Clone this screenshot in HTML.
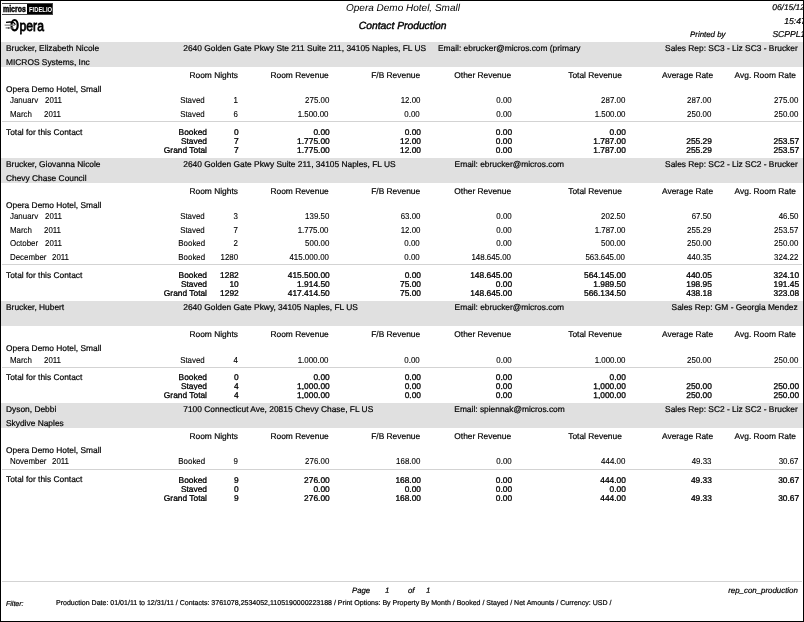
<!DOCTYPE html>
<html><head><meta charset="utf-8"><style>
html,body{margin:0;padding:0;background:#fff;}
#pg{position:relative;width:804px;height:622px;overflow:hidden;background:#fff;}
#clip{position:absolute;left:0;top:0;width:803px;height:620px;overflow:hidden;will-change:transform;}
.t{position:absolute;white-space:pre;line-height:1;text-rendering:geometricPrecision;font-family:"Liberation Sans",sans-serif;color:#000;-webkit-text-stroke:0.2px #000;}
.d{color:#000;-webkit-text-stroke:0.12px #000;transform:scaleX(0.92);}
.b{color:#000;-webkit-text-stroke:0.3px #000;}
</style></head><body><div id="pg"><div id="clip">

<div style="position:absolute;left:1.5px;top:3px;width:51px;height:11.7px;background:#444"></div>
<div style="position:absolute;left:2.1px;top:3.7px;width:25px;height:10.3px;background:#fff"></div>
<div style="position:absolute;left:27.1px;top:3.7px;width:25.2px;height:10.7px;background:#000"></div>
<div style="position:absolute;left:3px;top:3.5px;font:bold 9.4px/10px 'Liberation Sans',sans-serif;color:#000;transform:scaleX(0.74);transform-origin:0 0;white-space:nowrap;-webkit-text-stroke:0.5px #000">micros</div>
<div style="position:absolute;left:27.2px;top:8.3px;width:1.2px;height:1.2px;border-radius:1px;background:#000"></div>
<div style="position:absolute;left:29.2px;top:5.7px;font:bold 6.8px/7px 'Liberation Sans',sans-serif;color:#fff;transform:scaleX(0.86);transform-origin:0 0;white-space:nowrap">FIDELIO</div>
<svg style="position:absolute;left:0;top:0" width="50" height="40" viewBox="0 0 50 40">
  <ellipse cx="14.6" cy="25.2" rx="3.1" ry="5.2" fill="none" stroke="#000" stroke-width="2.2"/>
  <path d="M6.0 22.3 C9 21.9 12 21.7 13.8 22.8 C14.6 23.3 15 24 15.2 24.8" fill="none" stroke="#000" stroke-width="1.3"/>
  <path d="M4.6 25.1 L14.8 25.2" stroke="#8a8a8a" stroke-width="1.4"/>
  <path d="M5.6 27.9 L13.8 28.0" stroke="#777" stroke-width="1.1"/>
  <circle cx="8.6" cy="28" r="0.8" fill="#333"/>
  <text x="0" y="31" font-family="Liberation Sans" font-size="15.2" transform="translate(19.6 0) scale(0.8 1)" fill="#000" stroke="#000" stroke-width="0.8">pera</text>
</svg>

<div class="t " style="left:346.00px;top:3.94px;font-size:10.0px;font-style:italic;-webkit-text-stroke:0px;">Opera Demo Hotel, Small</div><div class="t " style="left:358.80px;top:22.28px;font-size:10.3px;font-style:italic;-webkit-text-stroke:0.4px #000;">Contact Production</div><div class="t " style="left:772.30px;top:3.29px;font-size:8.4px;font-style:italic;">06/15/12</div><div class="t " style="left:784.20px;top:16.82px;font-size:8.6px;font-style:italic;">15:47</div><div class="t " style="left:690.00px;top:30.71px;font-size:7.9px;font-style:italic;">Printed by</div><div class="t " style="left:772.40px;top:30.02px;font-size:8.6px;font-style:italic;">SCPPL1</div><div style="position:absolute;left:1px;top:42.0px;width:802px;height:24.7px;background:#e0e0e0;"></div><div class="t " style="left:6.00px;top:43.89px;font-size:8.4px;">Brucker, Elizabeth Nicole</div><div class="t " style="left:6.00px;top:57.69px;font-size:8.4px;">MICROS Systems, Inc</div><div class="t " style="left:183.30px;top:43.89px;font-size:8.4px;">2640 Golden Gate Pkwy Ste 211 Suite 211, 34105 Naples, FL US</div><div class="t " style="left:438.00px;top:43.89px;font-size:8.4px;">Email: ebrucker@micros.com (primary</div><div class="t " style="right:5.30px;top:43.89px;font-size:8.4px;">Sales Rep: SC3 - Liz SC3 - Brucker</div><div class="t " style="right:565.10px;top:70.99px;font-size:8.4px;">Room Nights</div><div class="t " style="right:474.30px;top:70.99px;font-size:8.4px;">Room Revenue</div><div class="t " style="right:382.90px;top:70.99px;font-size:8.4px;">F/B Revenue</div><div class="t " style="right:291.90px;top:70.99px;font-size:8.4px;">Other Revenue</div><div class="t " style="right:181.20px;top:70.99px;font-size:8.4px;">Total Revenue</div><div class="t " style="right:89.90px;top:70.99px;font-size:8.4px;">Average Rate</div><div class="t " style="right:7.10px;top:70.99px;font-size:8.4px;">Avg. Room Rate</div><div class="t " style="left:6.00px;top:84.79px;font-size:8.4px;">Opera Demo Hotel, Small</div><div style="position:absolute;left:0;top:93px;width:804px;height:10px;overflow:hidden"><div class="t d" style="left:10.40px;top:3.32px;font-size:8.6px;transform-origin:left center;">January</div><div class="t d" style="left:45.40px;top:3.32px;font-size:8.6px;transform-origin:left center;">2011</div><div class="t d" style="right:599.10px;top:3.32px;font-size:8.6px;transform-origin:right center;">Stayed</div><div class="t d" style="right:566.10px;top:3.32px;font-size:8.6px;transform-origin:right center;">1</div><div class="t d" style="right:475.10px;top:3.32px;font-size:8.6px;transform-origin:right center;">275.00</div><div class="t d" style="right:383.80px;top:3.32px;font-size:8.6px;transform-origin:right center;">12.00</div><div class="t d" style="right:292.70px;top:3.32px;font-size:8.6px;transform-origin:right center;">0.00</div><div class="t d" style="right:178.90px;top:3.32px;font-size:8.6px;transform-origin:right center;">287.00</div><div class="t d" style="right:92.90px;top:3.32px;font-size:8.6px;transform-origin:right center;">287.00</div><div class="t d" style="right:5.70px;top:3.32px;font-size:8.6px;transform-origin:right center;">275.00</div></div><div style="position:absolute;left:0;top:107px;width:804px;height:10px;overflow:hidden"><div class="t d" style="left:10.40px;top:2.92px;font-size:8.6px;transform-origin:left center;">March</div><div class="t d" style="left:43.80px;top:2.92px;font-size:8.6px;transform-origin:left center;">2011</div><div class="t d" style="right:599.10px;top:2.92px;font-size:8.6px;transform-origin:right center;">Stayed</div><div class="t d" style="right:566.10px;top:2.92px;font-size:8.6px;transform-origin:right center;">6</div><div class="t d" style="right:475.10px;top:2.92px;font-size:8.6px;transform-origin:right center;">1,500.00</div><div class="t d" style="right:383.80px;top:2.92px;font-size:8.6px;transform-origin:right center;">0.00</div><div class="t d" style="right:292.70px;top:2.92px;font-size:8.6px;transform-origin:right center;">0.00</div><div class="t d" style="right:178.90px;top:2.92px;font-size:8.6px;transform-origin:right center;">1,500.00</div><div class="t d" style="right:92.90px;top:2.92px;font-size:8.6px;transform-origin:right center;">250.00</div><div class="t d" style="right:5.70px;top:2.92px;font-size:8.6px;transform-origin:right center;">250.00</div></div><div style="position:absolute;left:2px;top:121px;width:800px;height:1px;background:#d3d3d3;"></div><div class="t " style="left:6.00px;top:127.69px;font-size:8.4px;">Total for this Contact</div><div style="position:absolute;left:0;top:126px;width:804px;height:9px;overflow:hidden"><div class="t b" style="right:597.00px;top:2.39px;font-size:8.4px;">Booked</div><div class="t b" style="right:565.30px;top:2.39px;font-size:8.4px;">0</div><div class="t b" style="right:474.30px;top:2.39px;font-size:8.4px;">0.00</div><div class="t b" style="right:383.00px;top:2.39px;font-size:8.4px;">0.00</div><div class="t b" style="right:291.90px;top:2.39px;font-size:8.4px;">0.00</div><div class="t b" style="right:178.10px;top:2.39px;font-size:8.4px;">0.00</div></div><div style="position:absolute;left:0;top:135px;width:804px;height:9px;overflow:hidden"><div class="t b" style="right:597.00px;top:2.39px;font-size:8.4px;">Stayed</div><div class="t b" style="right:565.30px;top:2.39px;font-size:8.4px;">7</div><div class="t b" style="right:474.30px;top:2.39px;font-size:8.4px;">1,775.00</div><div class="t b" style="right:383.00px;top:2.39px;font-size:8.4px;">12.00</div><div class="t b" style="right:291.90px;top:2.39px;font-size:8.4px;">0.00</div><div class="t b" style="right:178.10px;top:2.39px;font-size:8.4px;">1,787.00</div><div class="t b" style="right:92.10px;top:2.39px;font-size:8.4px;">255.29</div><div class="t b" style="right:4.90px;top:2.39px;font-size:8.4px;">253.57</div></div><div style="position:absolute;left:0;top:144px;width:804px;height:9px;overflow:hidden"><div class="t b" style="right:597.00px;top:2.39px;font-size:8.4px;">Grand Total</div><div class="t b" style="right:565.30px;top:2.39px;font-size:8.4px;">7</div><div class="t b" style="right:474.30px;top:2.39px;font-size:8.4px;">1,775.00</div><div class="t b" style="right:383.00px;top:2.39px;font-size:8.4px;">12.00</div><div class="t b" style="right:291.90px;top:2.39px;font-size:8.4px;">0.00</div><div class="t b" style="right:178.10px;top:2.39px;font-size:8.4px;">1,787.00</div><div class="t b" style="right:92.10px;top:2.39px;font-size:8.4px;">255.29</div><div class="t b" style="right:4.90px;top:2.39px;font-size:8.4px;">253.57</div></div><div style="position:absolute;left:1px;top:157.9px;width:802px;height:24.7px;background:#e0e0e0;"></div><div class="t " style="left:6.00px;top:159.79px;font-size:8.4px;">Brucker, Giovanna Nicole</div><div class="t " style="left:6.00px;top:173.59px;font-size:8.4px;">Chevy Chase Council</div><div class="t " style="left:183.30px;top:159.79px;font-size:8.4px;">2640 Golden Gate Pkwy Suite 211, 34105 Naples, FL US</div><div class="t " style="left:454.60px;top:159.79px;font-size:8.4px;">Email: ebrucker@micros.com</div><div class="t " style="right:5.30px;top:159.79px;font-size:8.4px;">Sales Rep: SC2 - Liz SC2 - Brucker</div><div class="t " style="right:565.10px;top:186.89px;font-size:8.4px;">Room Nights</div><div class="t " style="right:474.30px;top:186.89px;font-size:8.4px;">Room Revenue</div><div class="t " style="right:382.90px;top:186.89px;font-size:8.4px;">F/B Revenue</div><div class="t " style="right:291.90px;top:186.89px;font-size:8.4px;">Other Revenue</div><div class="t " style="right:181.20px;top:186.89px;font-size:8.4px;">Total Revenue</div><div class="t " style="right:89.90px;top:186.89px;font-size:8.4px;">Average Rate</div><div class="t " style="right:7.10px;top:186.89px;font-size:8.4px;">Avg. Room Rate</div><div class="t " style="left:6.00px;top:200.69px;font-size:8.4px;">Opera Demo Hotel, Small</div><div style="position:absolute;left:0;top:209px;width:804px;height:10px;overflow:hidden"><div class="t d" style="left:10.40px;top:3.22px;font-size:8.6px;transform-origin:left center;">January</div><div class="t d" style="left:45.40px;top:3.22px;font-size:8.6px;transform-origin:left center;">2011</div><div class="t d" style="right:599.10px;top:3.22px;font-size:8.6px;transform-origin:right center;">Stayed</div><div class="t d" style="right:566.10px;top:3.22px;font-size:8.6px;transform-origin:right center;">3</div><div class="t d" style="right:475.10px;top:3.22px;font-size:8.6px;transform-origin:right center;">139.50</div><div class="t d" style="right:383.80px;top:3.22px;font-size:8.6px;transform-origin:right center;">63.00</div><div class="t d" style="right:292.70px;top:3.22px;font-size:8.6px;transform-origin:right center;">0.00</div><div class="t d" style="right:178.90px;top:3.22px;font-size:8.6px;transform-origin:right center;">202.50</div><div class="t d" style="right:92.90px;top:3.22px;font-size:8.6px;transform-origin:right center;">67.50</div><div class="t d" style="right:5.70px;top:3.22px;font-size:8.6px;transform-origin:right center;">46.50</div></div><div style="position:absolute;left:0;top:223px;width:804px;height:10px;overflow:hidden"><div class="t d" style="left:10.40px;top:2.82px;font-size:8.6px;transform-origin:left center;">March</div><div class="t d" style="left:43.80px;top:2.82px;font-size:8.6px;transform-origin:left center;">2011</div><div class="t d" style="right:599.10px;top:2.82px;font-size:8.6px;transform-origin:right center;">Stayed</div><div class="t d" style="right:566.10px;top:2.82px;font-size:8.6px;transform-origin:right center;">7</div><div class="t d" style="right:475.10px;top:2.82px;font-size:8.6px;transform-origin:right center;">1,775.00</div><div class="t d" style="right:383.80px;top:2.82px;font-size:8.6px;transform-origin:right center;">12.00</div><div class="t d" style="right:292.70px;top:2.82px;font-size:8.6px;transform-origin:right center;">0.00</div><div class="t d" style="right:178.90px;top:2.82px;font-size:8.6px;transform-origin:right center;">1,787.00</div><div class="t d" style="right:92.90px;top:2.82px;font-size:8.6px;transform-origin:right center;">255.29</div><div class="t d" style="right:5.70px;top:2.82px;font-size:8.6px;transform-origin:right center;">253.57</div></div><div style="position:absolute;left:0;top:236px;width:804px;height:10px;overflow:hidden"><div class="t d" style="left:10.40px;top:3.42px;font-size:8.6px;transform-origin:left center;">October</div><div class="t d" style="left:45.40px;top:3.42px;font-size:8.6px;transform-origin:left center;">2011</div><div class="t d" style="right:599.10px;top:3.42px;font-size:8.6px;transform-origin:right center;">Booked</div><div class="t d" style="right:566.10px;top:3.42px;font-size:8.6px;transform-origin:right center;">2</div><div class="t d" style="right:475.10px;top:3.42px;font-size:8.6px;transform-origin:right center;">500.00</div><div class="t d" style="right:383.80px;top:3.42px;font-size:8.6px;transform-origin:right center;">0.00</div><div class="t d" style="right:292.70px;top:3.42px;font-size:8.6px;transform-origin:right center;">0.00</div><div class="t d" style="right:178.90px;top:3.42px;font-size:8.6px;transform-origin:right center;">500.00</div><div class="t d" style="right:92.90px;top:3.42px;font-size:8.6px;transform-origin:right center;">250.00</div><div class="t d" style="right:5.70px;top:3.42px;font-size:8.6px;transform-origin:right center;">250.00</div></div><div style="position:absolute;left:0;top:250px;width:804px;height:10px;overflow:hidden"><div class="t d" style="left:10.40px;top:3.02px;font-size:8.6px;transform-origin:left center;">December</div><div class="t d" style="left:51.70px;top:3.02px;font-size:8.6px;transform-origin:left center;">2011</div><div class="t d" style="right:599.10px;top:3.02px;font-size:8.6px;transform-origin:right center;">Booked</div><div class="t d" style="right:566.10px;top:3.02px;font-size:8.6px;transform-origin:right center;">1280</div><div class="t d" style="right:475.10px;top:3.02px;font-size:8.6px;transform-origin:right center;">415,000.00</div><div class="t d" style="right:383.80px;top:3.02px;font-size:8.6px;transform-origin:right center;">0.00</div><div class="t d" style="right:292.70px;top:3.02px;font-size:8.6px;transform-origin:right center;">148,645.00</div><div class="t d" style="right:178.90px;top:3.02px;font-size:8.6px;transform-origin:right center;">563,645.00</div><div class="t d" style="right:92.90px;top:3.02px;font-size:8.6px;transform-origin:right center;">440.35</div><div class="t d" style="right:5.70px;top:3.02px;font-size:8.6px;transform-origin:right center;">324.22</div></div><div style="position:absolute;left:2px;top:264px;width:800px;height:1px;background:#d3d3d3;"></div><div class="t " style="left:6.00px;top:270.79px;font-size:8.4px;">Total for this Contact</div><div style="position:absolute;left:0;top:269px;width:804px;height:9px;overflow:hidden"><div class="t b" style="right:597.00px;top:2.49px;font-size:8.4px;">Booked</div><div class="t b" style="right:565.30px;top:2.49px;font-size:8.4px;">1282</div><div class="t b" style="right:474.30px;top:2.49px;font-size:8.4px;">415,500.00</div><div class="t b" style="right:383.00px;top:2.49px;font-size:8.4px;">0.00</div><div class="t b" style="right:291.90px;top:2.49px;font-size:8.4px;">148,645.00</div><div class="t b" style="right:178.10px;top:2.49px;font-size:8.4px;">564,145.00</div><div class="t b" style="right:92.10px;top:2.49px;font-size:8.4px;">440.05</div><div class="t b" style="right:4.90px;top:2.49px;font-size:8.4px;">324.10</div></div><div style="position:absolute;left:0;top:278px;width:804px;height:9px;overflow:hidden"><div class="t b" style="right:597.00px;top:2.49px;font-size:8.4px;">Stayed</div><div class="t b" style="right:565.30px;top:2.49px;font-size:8.4px;">10</div><div class="t b" style="right:474.30px;top:2.49px;font-size:8.4px;">1,914.50</div><div class="t b" style="right:383.00px;top:2.49px;font-size:8.4px;">75.00</div><div class="t b" style="right:291.90px;top:2.49px;font-size:8.4px;">0.00</div><div class="t b" style="right:178.10px;top:2.49px;font-size:8.4px;">1,989.50</div><div class="t b" style="right:92.10px;top:2.49px;font-size:8.4px;">198.95</div><div class="t b" style="right:4.90px;top:2.49px;font-size:8.4px;">191.45</div></div><div style="position:absolute;left:0;top:287px;width:804px;height:9px;overflow:hidden"><div class="t b" style="right:597.00px;top:2.49px;font-size:8.4px;">Grand Total</div><div class="t b" style="right:565.30px;top:2.49px;font-size:8.4px;">1292</div><div class="t b" style="right:474.30px;top:2.49px;font-size:8.4px;">417,414.50</div><div class="t b" style="right:383.00px;top:2.49px;font-size:8.4px;">75.00</div><div class="t b" style="right:291.90px;top:2.49px;font-size:8.4px;">148,645.00</div><div class="t b" style="right:178.10px;top:2.49px;font-size:8.4px;">566,134.50</div><div class="t b" style="right:92.10px;top:2.49px;font-size:8.4px;">438.18</div><div class="t b" style="right:4.90px;top:2.49px;font-size:8.4px;">323.08</div></div><div style="position:absolute;left:1px;top:301.2px;width:802px;height:24.7px;background:#e0e0e0;"></div><div class="t " style="left:6.00px;top:303.09px;font-size:8.4px;">Brucker, Hubert</div><div class="t " style="left:183.30px;top:303.09px;font-size:8.4px;">2640 Golden Gate Pkwy, 34105 Naples, FL US</div><div class="t " style="left:454.60px;top:303.09px;font-size:8.4px;">Email: ebrucker@micros.com</div><div class="t " style="right:5.30px;top:303.09px;font-size:8.4px;">Sales Rep: GM - Georgia Mendez</div><div class="t " style="right:565.10px;top:330.19px;font-size:8.4px;">Room Nights</div><div class="t " style="right:474.30px;top:330.19px;font-size:8.4px;">Room Revenue</div><div class="t " style="right:382.90px;top:330.19px;font-size:8.4px;">F/B Revenue</div><div class="t " style="right:291.90px;top:330.19px;font-size:8.4px;">Other Revenue</div><div class="t " style="right:181.20px;top:330.19px;font-size:8.4px;">Total Revenue</div><div class="t " style="right:89.90px;top:330.19px;font-size:8.4px;">Average Rate</div><div class="t " style="right:7.10px;top:330.19px;font-size:8.4px;">Avg. Room Rate</div><div class="t " style="left:6.00px;top:343.99px;font-size:8.4px;">Opera Demo Hotel, Small</div><div style="position:absolute;left:0;top:353px;width:804px;height:10px;overflow:hidden"><div class="t d" style="left:10.40px;top:2.52px;font-size:8.6px;transform-origin:left center;">March</div><div class="t d" style="left:43.80px;top:2.52px;font-size:8.6px;transform-origin:left center;">2011</div><div class="t d" style="right:599.10px;top:2.52px;font-size:8.6px;transform-origin:right center;">Stayed</div><div class="t d" style="right:566.10px;top:2.52px;font-size:8.6px;transform-origin:right center;">4</div><div class="t d" style="right:475.10px;top:2.52px;font-size:8.6px;transform-origin:right center;">1,000.00</div><div class="t d" style="right:383.80px;top:2.52px;font-size:8.6px;transform-origin:right center;">0.00</div><div class="t d" style="right:292.70px;top:2.52px;font-size:8.6px;transform-origin:right center;">0.00</div><div class="t d" style="right:178.90px;top:2.52px;font-size:8.6px;transform-origin:right center;">1,000.00</div><div class="t d" style="right:92.90px;top:2.52px;font-size:8.6px;transform-origin:right center;">250.00</div><div class="t d" style="right:5.70px;top:2.52px;font-size:8.6px;transform-origin:right center;">250.00</div></div><div style="position:absolute;left:2px;top:367px;width:800px;height:1px;background:#d3d3d3;"></div><div class="t " style="left:6.00px;top:373.29px;font-size:8.4px;">Total for this Contact</div><div style="position:absolute;left:0;top:371px;width:804px;height:10px;overflow:hidden"><div class="t b" style="right:597.00px;top:2.39px;font-size:8.4px;">Booked</div><div class="t b" style="right:565.30px;top:2.39px;font-size:8.4px;">0</div><div class="t b" style="right:474.30px;top:2.39px;font-size:8.4px;">0.00</div><div class="t b" style="right:383.00px;top:2.39px;font-size:8.4px;">0.00</div><div class="t b" style="right:291.90px;top:2.39px;font-size:8.4px;">0.00</div><div class="t b" style="right:178.10px;top:2.39px;font-size:8.4px;">0.00</div></div><div style="position:absolute;left:0;top:380px;width:804px;height:10px;overflow:hidden"><div class="t b" style="right:597.00px;top:2.39px;font-size:8.4px;">Stayed</div><div class="t b" style="right:565.30px;top:2.39px;font-size:8.4px;">4</div><div class="t b" style="right:474.30px;top:2.39px;font-size:8.4px;">1,000.00</div><div class="t b" style="right:383.00px;top:2.39px;font-size:8.4px;">0.00</div><div class="t b" style="right:291.90px;top:2.39px;font-size:8.4px;">0.00</div><div class="t b" style="right:178.10px;top:2.39px;font-size:8.4px;">1,000.00</div><div class="t b" style="right:92.10px;top:2.39px;font-size:8.4px;">250.00</div><div class="t b" style="right:4.90px;top:2.39px;font-size:8.4px;">250.00</div></div><div style="position:absolute;left:0;top:389px;width:804px;height:10px;overflow:hidden"><div class="t b" style="right:597.00px;top:2.39px;font-size:8.4px;">Grand Total</div><div class="t b" style="right:565.30px;top:2.39px;font-size:8.4px;">4</div><div class="t b" style="right:474.30px;top:2.39px;font-size:8.4px;">1,000.00</div><div class="t b" style="right:383.00px;top:2.39px;font-size:8.4px;">0.00</div><div class="t b" style="right:291.90px;top:2.39px;font-size:8.4px;">0.00</div><div class="t b" style="right:178.10px;top:2.39px;font-size:8.4px;">1,000.00</div><div class="t b" style="right:92.10px;top:2.39px;font-size:8.4px;">250.00</div><div class="t b" style="right:4.90px;top:2.39px;font-size:8.4px;">250.00</div></div><div style="position:absolute;left:1px;top:403.0px;width:802px;height:24.7px;background:#e0e0e0;"></div><div class="t " style="left:6.00px;top:404.89px;font-size:8.4px;">Dyson, Debbi</div><div class="t " style="left:6.00px;top:418.69px;font-size:8.4px;">Skydive Naples</div><div class="t " style="left:183.30px;top:404.89px;font-size:8.4px;">7100 Connecticut Ave, 20815 Chevy Chase, FL US</div><div class="t " style="left:454.30px;top:404.89px;font-size:8.4px;">Email: spiennak@micros.com</div><div class="t " style="right:5.30px;top:404.89px;font-size:8.4px;">Sales Rep: SC2 - Liz SC2 - Brucker</div><div class="t " style="right:565.10px;top:431.99px;font-size:8.4px;">Room Nights</div><div class="t " style="right:474.30px;top:431.99px;font-size:8.4px;">Room Revenue</div><div class="t " style="right:382.90px;top:431.99px;font-size:8.4px;">F/B Revenue</div><div class="t " style="right:291.90px;top:431.99px;font-size:8.4px;">Other Revenue</div><div class="t " style="right:181.20px;top:431.99px;font-size:8.4px;">Total Revenue</div><div class="t " style="right:89.90px;top:431.99px;font-size:8.4px;">Average Rate</div><div class="t " style="right:7.10px;top:431.99px;font-size:8.4px;">Avg. Room Rate</div><div class="t " style="left:6.00px;top:445.79px;font-size:8.4px;">Opera Demo Hotel, Small</div><div style="position:absolute;left:0;top:454px;width:804px;height:10px;overflow:hidden"><div class="t d" style="left:10.40px;top:3.32px;font-size:8.6px;transform-origin:left center;">November</div><div class="t d" style="left:51.70px;top:3.32px;font-size:8.6px;transform-origin:left center;">2011</div><div class="t d" style="right:599.10px;top:3.32px;font-size:8.6px;transform-origin:right center;">Booked</div><div class="t d" style="right:566.10px;top:3.32px;font-size:8.6px;transform-origin:right center;">9</div><div class="t d" style="right:475.10px;top:3.32px;font-size:8.6px;transform-origin:right center;">276.00</div><div class="t d" style="right:383.80px;top:3.32px;font-size:8.6px;transform-origin:right center;">168.00</div><div class="t d" style="right:292.70px;top:3.32px;font-size:8.6px;transform-origin:right center;">0.00</div><div class="t d" style="right:178.90px;top:3.32px;font-size:8.6px;transform-origin:right center;">444.00</div><div class="t d" style="right:92.90px;top:3.32px;font-size:8.6px;transform-origin:right center;">49.33</div><div class="t d" style="right:5.70px;top:3.32px;font-size:8.6px;transform-origin:right center;">30.67</div></div><div style="position:absolute;left:2px;top:469px;width:800px;height:1px;background:#d3d3d3;"></div><div class="t " style="left:6.00px;top:475.09px;font-size:8.4px;">Total for this Contact</div><div style="position:absolute;left:0;top:474px;width:804px;height:9px;overflow:hidden"><div class="t b" style="right:597.00px;top:1.79px;font-size:8.4px;">Booked</div><div class="t b" style="right:565.30px;top:1.79px;font-size:8.4px;">9</div><div class="t b" style="right:474.30px;top:1.79px;font-size:8.4px;">276.00</div><div class="t b" style="right:383.00px;top:1.79px;font-size:8.4px;">168.00</div><div class="t b" style="right:291.90px;top:1.79px;font-size:8.4px;">0.00</div><div class="t b" style="right:178.10px;top:1.79px;font-size:8.4px;">444.00</div><div class="t b" style="right:92.10px;top:1.79px;font-size:8.4px;">49.33</div><div class="t b" style="right:4.90px;top:1.79px;font-size:8.4px;">30.67</div></div><div style="position:absolute;left:0;top:483px;width:804px;height:9px;overflow:hidden"><div class="t b" style="right:597.00px;top:1.79px;font-size:8.4px;">Stayed</div><div class="t b" style="right:565.30px;top:1.79px;font-size:8.4px;">0</div><div class="t b" style="right:474.30px;top:1.79px;font-size:8.4px;">0.00</div><div class="t b" style="right:383.00px;top:1.79px;font-size:8.4px;">0.00</div><div class="t b" style="right:291.90px;top:1.79px;font-size:8.4px;">0.00</div><div class="t b" style="right:178.10px;top:1.79px;font-size:8.4px;">0.00</div></div><div style="position:absolute;left:0;top:492px;width:804px;height:9px;overflow:hidden"><div class="t b" style="right:597.00px;top:1.79px;font-size:8.4px;">Grand Total</div><div class="t b" style="right:565.30px;top:1.79px;font-size:8.4px;">9</div><div class="t b" style="right:474.30px;top:1.79px;font-size:8.4px;">276.00</div><div class="t b" style="right:383.00px;top:1.79px;font-size:8.4px;">168.00</div><div class="t b" style="right:291.90px;top:1.79px;font-size:8.4px;">0.00</div><div class="t b" style="right:178.10px;top:1.79px;font-size:8.4px;">444.00</div><div class="t b" style="right:92.10px;top:1.79px;font-size:8.4px;">49.33</div><div class="t b" style="right:4.90px;top:1.79px;font-size:8.4px;">30.67</div></div><div style="position:absolute;left:2px;top:581px;width:800px;height:1px;background:#d3d3d3;"></div><div class="t " style="left:352.00px;top:587.00px;font-size:7.8px;font-style:italic;">Page</div><div class="t " style="left:385.00px;top:587.00px;font-size:7.8px;font-style:italic;">1</div><div class="t " style="left:408.00px;top:587.00px;font-size:7.8px;font-style:italic;">of</div><div class="t " style="left:426.00px;top:587.00px;font-size:7.8px;font-style:italic;">1</div><div class="t " style="right:5.10px;top:586.81px;font-size:7.9px;font-style:italic;">rep_con_production</div><div class="t " style="left:6.00px;top:601.07px;font-size:7.0px;font-style:italic;">Filter:</div><div class="t " style="left:56.00px;top:600.44px;font-size:7.04px;">Production Date: 01/01/11 to 12/31/11 / Contacts: 3761078,2534052,1105190000223188 / Print Options: By Property By Month / Booked / Stayed / Net Amounts / Currency: USD /</div>
</div>
<div style="position:absolute;left:0;top:0;width:804px;height:1px;background:#000"></div>
<div style="position:absolute;left:0;top:0;width:1px;height:622px;background:#000"></div>
<div style="position:absolute;left:803px;top:0;width:1px;height:622px;background:#000"></div>
<div style="position:absolute;left:0;top:620.5px;width:804px;height:1.5px;background:#000"></div>
</div></body></html>
